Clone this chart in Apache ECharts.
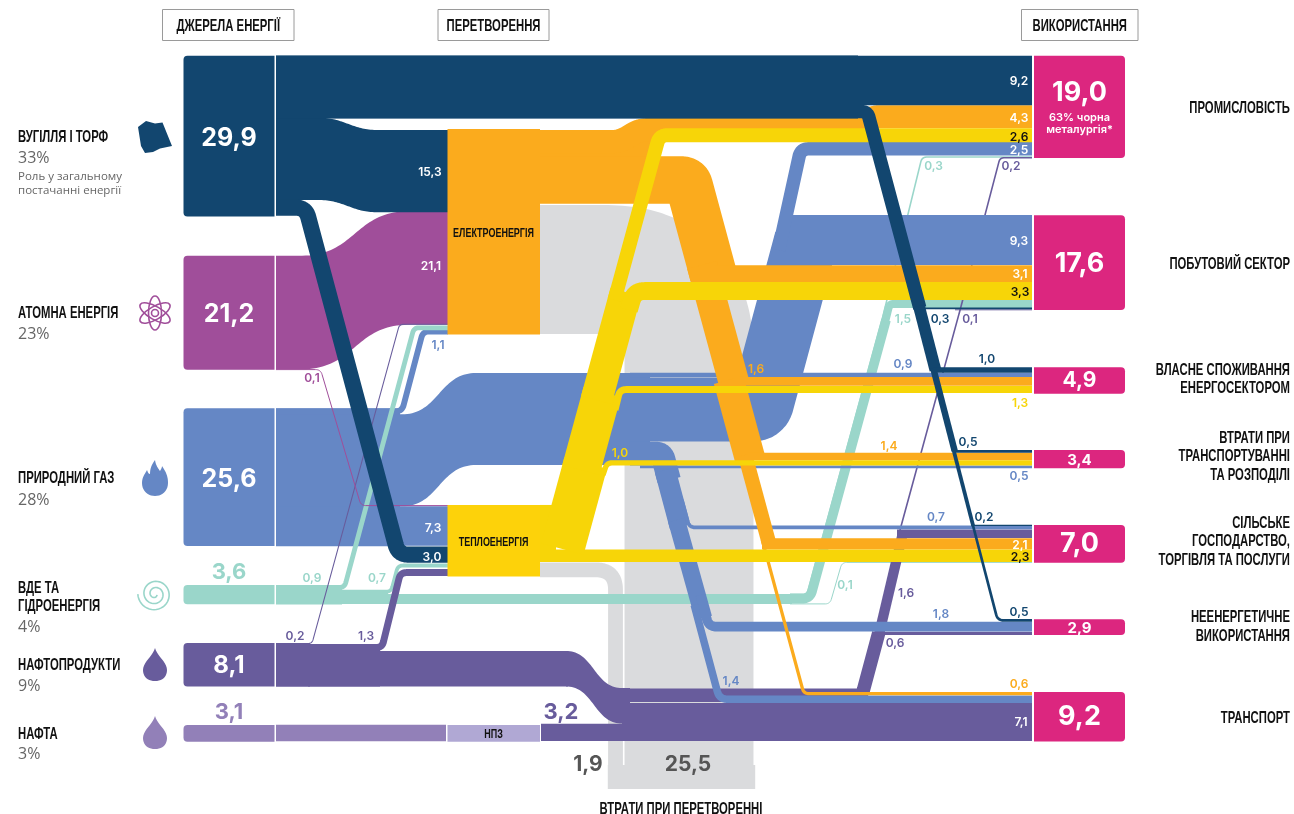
<!DOCTYPE html>
<html><head><meta charset="utf-8">
<style>html,body{margin:0;padding:0;background:#fff}#c{width:1294px;height:814px}</style>
<script src="https://cdn.jsdelivr.net/npm/echarts@6/dist/echarts.min.js"></script>
</head><body><div id="c"></div>
<script>
// ---------- DATA ----------
const sourceValues = [29.9, 21.2, 25.6, 3.6, 8.1, 3.1];
const sourceShares = ['33%', '23%', '28%', '4%', '9%', '3%'];
const useValues = [19.0, 17.6, 4.9, 3.4, 7.0, 2.9, 9.2];
const useNames = [['ПРОМИСЛОВІСТЬ'], ['ПОБУТОВИЙ СЕКТОР'], ['ВЛАСНЕ СПОЖИВАННЯ', 'ЕНЕРГОСЕКТОРОМ'],
  ['ВТРАТИ ПРИ', 'ТРАНСПОРТУВАННІ', 'ТА РОЗПОДІЛІ'], ['СІЛЬСЬКЕ', 'ГОСПОДАРСТВО,', 'ТОРГІВЛЯ ТА ПОСЛУГИ'],
  ['НЕЕНЕРГЕТИЧНЕ', 'ВИКОРИСТАННЯ'], ['ТРАНСПОРТ']];
const sourceNames = [['ВУГІЛЛЯ І ТОРФ'], ['АТОМНА ЕНЕРГІЯ'], ['ПРИРОДНИЙ ГАЗ'], ['ВДЕ ТА', 'ГІДРОЕНЕРГІЯ'], ['НАФТОПРОДУКТИ'], ['НАФТА']];
// order of uses: industry, households, own use, grid losses, agri-services, non-energy, transport
const coalToUse = [9.2, 0.3, 1.0, 0.5, 0.2, 0.5, 0];
const gasToUse = [2.5, 9.3, 0.9, 0.5, 0.7, 1.8, 1.4];
const elecToUse = [4.3, 3.1, 1.6, 1.4, 2.1, 0, 0.6];
const heatToUse = [2.6, 3.3, 1.3, 1.0, 2.3, 0, 0];
const resToUse = [0.3, 1.5, 0, 0, 0.1, 0, 0];
const oilToUse = [0.2, 0.1, 0, 0, 1.6, 0.6, 7.1];
const toElec = { coal: 15.3, atom: 21.1, gas: 1.1, res: 0.9, oil: 0.2 };
const toHeat = { coal: 3.0, atom: 0.1, gas: 7.3, res: 0.7, oil: 1.3 };
const refinery = [3.1, 3.2];
const conversionLosses = [25.5, 1.9];
const conversionBoxes = [38.2, 13.3];

// ---------- STYLE / SCALE ----------
const KY = 5.38; // px per unit
const C = { coal:'#12466F', atom:'#A04E9A', gas:'#6587C5', res:'#9AD6CA', oil:'#685C9C', crude:'#9280B8', npz:'#B0A8D4',
  el:'#FBAB1D', heat:'#F7D508', heatBox:'#FDD20A', use:'#DC267F', loss:'#DADBDD' };
const NUM = 'Inter', NARROW = '"Liberation Sans"', BODY = '"Open Sans"';
const sum = a => a.reduce((s, v) => s + v, 0);
const fmt = v => v.toFixed(1).replace('.', ',');

// ---------- MARK LIST: each ribbon's width comes from its value, route from a layout list ----------
const marks = [];
const rib = (units, color, pts, r, scale) => marks.push({ k:'rib', units, color, pts, r: r == null ? 8 : r, scale: scale || 1 });
const band = (units, color, xs, ys, cv) => marks.push({ k:'band', units, color, xs, ys, cv: cv == null ? 0.5 : cv });
const box = (units, color, x, y, w, rad) => marks.push({ k:'box', units, color, x, y, w, rad });

// losses
rib(conversionLosses[0], C.loss, [[540,269.5],[689,269.5],[689,772]], 83, 0.94);
rib(conversionLosses[1], C.loss, [[540,569.8],[615.5,569.8],[615.5,772]], 20, 1.45);
rib(sum(conversionLosses), C.loss, [[681.5,765],[681.5,789]], 0);
// left big bands
band(toElec.atom, C.atom, [276,302,408,448], [255.7,211.3]);
band(toElec.coal, C.coal, [276,318,378,448], [117.7,130], 0.45);
rib(sourceValues[2], C.gas, [[276,477.3],[400,477.3]], 0);
rib(toElec.gas, C.gas, [[276,411.2],[402,411.2],[423,331.5],[448,331.5]], 6);
rib(toHeat.gas, C.gas, [[276,526],[448,526]], 0);
band(sum(gasToUse), C.gas, [276,402,476,650], [414.3,373]);
// renewables
rib(sum(resToUse), C.res, [[276,599],[792,599]], 0);
rib(sourceValues[3], C.res, [[276,594.7],[342,594.7]], 0);
rib(toHeat.res+sum(resToUse), C.res, [[340,597],[388,597]], 0);
rib(toElec.res, C.res, [[276,587.4],[344.5,587.4],[414,327.8],[448,327.8]], 5);
rib(toHeat.res, C.res, [[276,591.7],[391,591.7],[398,565.5],[448,565.5]], 5);
rib(resToUse[0], C.res, [[790,594.4],[807,594.4],[882,320],[922,157],[1032,157]], 5);
rib(resToUse[0]+resToUse[1], C.res, [[790,598.7],[810,598.7],[886,320]], 8);
rib(resToUse[1], C.res, [[885,322],[889.5,304],[1032,304]], 4);
rib(resToUse[4], C.res, [[790,603.9],[830,603.9],[842,562.4],[1032,562.4]], 5);
// oil products
rib(sourceValues[4], C.oil, [[276,664.8],[310,664.8]], 0);
rib(sourceValues[4]-toElec.oil, C.oil, [[308,665.3],[380,665.3]], 0);
rib(toElec.oil, C.oil, [[276,643.5],[312,643.5],[399.5,324.3],[448,324.3]], 4);
rib(toHeat.oil, C.oil, [[276,647.6],[382,647.6],[400.5,572.6],[448,572.6]], 6);
rib(sourceValues[4]-toElec.oil-toHeat.oil, C.oil, [[276,668.8],[568,668.8]], 0);
band(sourceValues[4]-toElec.oil-toHeat.oil, C.oil, [566,566,622,630], [651,688], 0.5);
rib(refinery[0], C.crude, [[276,733],[446,733]], 0);
rib(refinery[1], C.oil, [[541,732.4],[640,732.4]], 0);
rib(oilToUse[6], C.oil, [[622,722],[1032,722]], 0);
rib(oilToUse[0]+oilToUse[1]+oilToUse[4]+oilToUse[5], C.oil, [[625,695.3],[862,695.3],[878.7,633]], 6);
rib(oilToUse[5], C.oil, [[872,633.4],[1032,633.4]], 0);
rib(oilToUse[0]+oilToUse[1]+oilToUse[4], C.oil, [[878.6,636],[902.9,533]], 0);
rib(oilToUse[4], C.oil, [[897,533.7],[1032,533.7]], 0);
rib(oilToUse[0]+oilToUse[1], C.oil, [[900,530],[960,310.3],[1000,157.8],[1032,157.8]], 4);
rib(oilToUse[1], C.oil, [[955,309.8],[1032,309.8]], 0);
// gas, right side
rib(gasToUse[2], C.gas, [[630,375.2],[1032,375.2]], 0);
rib(gasToUse[0]+gasToUse[1], C.gas, [[630,409.8],[760.4,409.8],[806,240]], 8);
rib(gasToUse[1], C.gas, [[785,240],[1032,240]], 0);
rib(gasToUse[0], C.gas, [[778.6,250],[800.8,148.8],[1032,148.8]], 8);
rib(gasToUse[3]+gasToUse[4]+gasToUse[5]+gasToUse[6], C.gas, [[630,453.6],[662,453.6],[669.1,480]], 6);
rib(gasToUse[3], C.gas, [[640,466.9],[1032,466.9]], 0);
rib(gasToUse[4]+gasToUse[5]+gasToUse[6], C.gas, [[665,470],[680.2,527]], 0);
rib(gasToUse[4], C.gas, [[681.8,500],[689.3,527.4],[1032,527.4]], 6);
rib(gasToUse[5]+gasToUse[6], C.gas, [[676.4,520],[703.6,618]], 0);
rib(gasToUse[5], C.gas, [[700.3,595],[708.8,626.7],[1032,626.7]], 8);
rib(gasToUse[6], C.gas, [[694.2,605],[719.4,699.2],[1032,699.2]], 8);
// electricity out
rib(sum(elecToUse), C.el, [[540,167],[655,167]], 0);
rib(elecToUse[0], C.el, [[540,141.6],[620,141.6],[640,129.6],[855,129.6],[872,116.7],[1032,116.7]], 8);
rib(sum(elecToUse)-elecToUse[0], C.el, [[540,180],[687.7,180],[713.4,275]], 6);
rib(sum(elecToUse)-elecToUse[0]-elecToUse[1], C.el, [[702,265],[734.6,385]], 0);
rib(elecToUse[1], C.el, [[715,273.6],[1032,273.6]], 0);
rib(elecToUse[2]+elecToUse[3]+elecToUse[4]+elecToUse[6], C.el, [[728.7,380],[750.4,460]], 0);
rib(elecToUse[2], C.el, [[735,381.4],[1032,381.4]], 0);
rib(elecToUse[4]+elecToUse[6], C.el, [[745.1,455],[769.5,545]], 0);
rib(elecToUse[3], C.el, [[748,456.6],[1032,456.6]], 0);
rib(elecToUse[4], C.el, [[762,543.8],[1032,543.8]], 0);
rib(elecToUse[6], C.el, [[762.3,540],[803.8,693.6],[1032,693.6]], 5);
// heat out
rib(sum(heatToUse), C.heat, [[540,533.2],[556,533.2]], 0);
rib(heatToUse[4], C.heat, [[540,555.8],[1032,555.8]], 0);
rib(heatToUse[0]+heatToUse[1]+heatToUse[2]+heatToUse[3], C.heat, [[562.3,549],[585.7,463]], 0);
rib(heatToUse[0]+heatToUse[1]+heatToUse[2], C.heat, [[580.9,470],[602.2,392]], 0);
rib(heatToUse[0]+heatToUse[1], C.heat, [[596.4,400],[625.8,292]], 0);
rib(heatToUse[0], C.heat, [[614.5,300],[659.5,135.2],[1032,135.2]], 8);
rib(heatToUse[1], C.heat, [[629,310],[634.5,291],[1032,291]], 10);
rib(heatToUse[2], C.heat, [[615,410],[620,389.6],[1032,389.6]], 6);
rib(heatToUse[3], C.heat, [[603,475],[607,462.9],[1032,462.9]], 5);
// atom to heat
rib(toHeat.atom, C.atom, [[276,369.6],[320.6,369.6],[361,505.6],[448,505.6]], 5);
// coal
rib(coalToUse[0], C.coal, [[276,80.5],[1032,80.5]], 0);
rib(coalToUse[0]+sum(coalToUse.slice(1)), C.coal, [[276,87],[858,87]], 0);
rib(toHeat.coal, C.coal, [[276,207.6],[305.7,207.6],[398.3,554.6],[448,554.6]], 10);
let coalLeft = sum(coalToUse) - coalToUse[0];
rib(coalLeft, C.coal, [[276,111.6],[867.4,111.6],[919.8,308]], 6);
coalLeft -= coalToUse[1];
rib(coalLeft, C.coal, [[918.9,306],[935.4,370]], 0);
rib(coalToUse[1], C.coal, [[918,308.4],[1032,308.4]], 0);
coalLeft -= coalToUse[2];
rib(coalLeft, C.coal, [[933.2,368],[954.7,451]], 0);
rib(coalToUse[2], C.coal, [[933,370],[1032,370]], 0);
coalLeft -= coalToUse[3];
rib(coalLeft, C.coal, [[953.3,449],[973.2,526]], 0);
rib(coalToUse[3], C.coal, [[954,451.3],[1032,451.3]], 0);
coalLeft -= coalToUse[4];
rib(coalToUse[4], C.coal, [[973,525.4],[1032,525.4]], 0);
rib(coalLeft, C.coal, [[972.6,524],[997.7,620.4],[1032,620.4]], 6);
// boxes
const boxTops = [55.7, 255.7, 408.3, 585, 643, 725];
sourceValues.forEach((v, i) => box(v, [C.coal,C.atom,C.gas,C.res,C.oil,C.crude][i], 183.5, boxTops[i], 91, [4,0,0,4]));
box(conversionBoxes[0], C.el, 447.5, 129, 92.5, 0);
box(conversionBoxes[1], C.heatBox, 447.5, 505, 92.5, 0);
box(refinery[0], C.npz, 447.5, 725, 92.5, 0);
const useTops = [55.7, 215.3, 367.3, 450, 525, 619.3, 692];
useValues.forEach((v, i) => box(v, C.use, 1034, useTops[i], 91, [0,4,4,0]));

// ---------- DRAWING ----------
function roundRoute(pts, r) {
  const out = [pts[0]];
  for (let i = 1; i < pts.length - 1; i++) {
    const a = pts[i-1], b = pts[i], c = pts[i+1];
    const l1 = Math.hypot(b[0]-a[0], b[1]-a[1]), l2 = Math.hypot(c[0]-b[0], c[1]-b[1]);
    const rr = Math.min(r, i === 1 ? l1 : l1/2, i === pts.length-2 ? l2 : l2/2);
    const p = [b[0]+(a[0]-b[0])*rr/l1, b[1]+(a[1]-b[1])*rr/l1];
    const q = [b[0]+(c[0]-b[0])*rr/l2, b[1]+(c[1]-b[1])*rr/l2];
    for (let t = 0; t <= 1.0001; t += 1/16) {
      const u = 1-t;
      out.push([u*u*p[0]+2*u*t*b[0]+t*t*q[0], u*u*p[1]+2*u*t*b[1]+t*t*q[1]]);
    }
  }
  out.push(pts[pts.length-1]);
  return out;
}
function bandEdge(m, dy) {
  const [x0, xa, xb, x1] = m.xs, [y0, y1] = m.ys, pts = [[x0, y0+dy]];
  const c1 = xa+(xb-xa)*m.cv, c2 = xb-(xb-xa)*m.cv;
  for (let t = 0; t <= 1.0001; t += 1/40) {
    const u = 1-t;
    pts.push([u*u*u*xa+3*u*u*t*c1+3*u*t*t*c2+t*t*t*xb, u*u*u*y0+3*u*u*t*y0+3*u*t*t*y1+t*t*t*y1 + dy]);
  }
  pts.push([x1, y1+dy]);
  return pts;
}
function renderItem(params, api) {
  const m = marks[params.dataIndex];
  const thick = api.size([0, m.units*KY])[1];
  if (m.k === 'rib') {
    const points = roundRoute(m.pts, m.r).map(p => api.coord(p));
    return { type:'polyline', shape:{ points }, silent:true,
      style:{ fill:null, stroke:m.color, lineWidth:Math.max(1, thick*m.scale), lineCap:'butt', lineJoin:'round' } };
  }
  if (m.k === 'band') {
    const top = bandEdge(m, 0), bot = bandEdge(m, m.units*KY).reverse();
    return { type:'polygon', shape:{ points: top.concat(bot).map(p => api.coord(p)) }, silent:true, style:{ fill:m.color } };
  }
  const tl = api.coord([m.x, m.y]);
  return { type:'rect', shape:{ x:tl[0], y:tl[1], width:api.size([m.w,0])[0], height:thick, r:m.rad }, silent:true, style:{ fill:m.color } };
}

// ---------- TEXT ----------
const gfx = [];
function T(text, x, y, o) {
  o = o || {};
  gfx.push({ type:'text', x, y:y+1, z:10, scaleX:o.sx || 1, silent:true, style:{ text, fill:o.color || '#111',
    fontFamily:o.family || NUM, fontSize:o.size || 12, fontWeight:o.weight || 600,
    textAlign:o.align || 'center', textVerticalAlign:'middle' } });
}
const H = (text, x, y, align, size) => T(text, x, y+0.5, { family:NARROW, size:size || 17, weight:700, color:'#111', align:align || 'center', sx:0.665 });
const header = (t, x0, x1) => {
  gfx.push({ type:'rect', z:9, silent:true, shape:{ x:x0, y:9.5, width:x1-x0, height:31 }, style:{ fill:'#fff', stroke:'#9a9a9a', lineWidth:1 } });
  H(t, (x0+x1)/2, 24.5);
};
header('ДЖЕРЕЛА ЕНЕРГІЇ', 162.5, 294); header('ПЕРЕТВОРЕННЯ', 438, 549); header('ВИКОРИСТАННЯ', 1021.5, 1138);

// left captions
const srcNameY = [[136],[312],[477],[587,605],[664],[733]], srcPctY = [157,333,499,626,685,753];
sourceNames.forEach((ls, i) => {
  ls.forEach((l, j) => H(l, 18, srcNameY[i][j], 'left'));
  T(sourceShares[i], 18, srcPctY[i], { family:BODY, size:16, weight:400, color:'#666', align:'left' });
});
T('Роль у загальному', 18, 175.5, { family:BODY, size:11.5, weight:400, color:'#666', align:'left' });
T('постачанні енергії', 18, 189.5, { family:BODY, size:11.5, weight:400, color:'#666', align:'left' });

// right captions
const useNameY = [[107],[263],[369,387],[437,455,474],[522,540,559],[616,635],[717]];
useNames.forEach((ls, i) => ls.forEach((l, j) => H(l, 1290, useNameY[i][j], 'right')));

// box numbers
const srcNumPos = [[137,'#fff',25],[313,'#fff',25],[478,'#fff',25],[571,C.res,22],[665,'#fff',24],[711,C.crude,22]];
sourceValues.forEach((v, i) => T(fmt(v), 229, srcNumPos[i][0], { size:srcNumPos[i][2], weight:700, color:srcNumPos[i][1] }));
T(fmt(refinery[1]), 561, 711, { size:22, weight:700, color:C.oil });
const useNumPos = [[92,27],[263,27],[380,21],[459,15],[543,27],[627,15],[716,27]];
useValues.forEach((v, i) => T(fmt(v), 1079.5, useNumPos[i][0], { size:useNumPos[i][1], weight:700, color:'#fff' }));
T('63% чорна', 1079.5, 117, { size:11, weight:600, color:'#fff' });
T('металургія*', 1079.5, 129, { size:11, weight:600, color:'#fff' });
H('ЕЛЕКТРОЕНЕРГІЯ', 493.5, 232, 'center', 13.5);
H('ТЕПЛОЕНЕРГІЯ', 493.5, 541, 'center', 13.5);
H('НПЗ', 493.5, 733, 'center', 13.5);
T(fmt(conversionLosses[1]), 588, 764, { size:21, weight:700, color:'#555' });
T(fmt(conversionLosses[0]), 688, 764, { size:21, weight:700, color:'#555' });
H('ВТРАТИ ПРИ ПЕРЕТВОРЕННІ', 681, 808, 'center');

// flow numbers: [value, x, y, colour]
const flowLabels = [
  [toElec.coal,430,171,'#fff'],[toElec.atom,431,265,'#fff'],[toElec.gas,438,344,C.gas],[toHeat.atom,312,377,C.atom],
  [toHeat.gas,433,527,'#fff'],[toHeat.coal,432,556,'#fff'],[toElec.res,312,577,C.res],[toHeat.res,377,577,C.res],
  [toElec.oil,295,635,C.oil],[toHeat.oil,366,635,C.oil],
  [coalToUse[0],1019,80,'#fff'],[elecToUse[0],1019,117,'#fff'],[heatToUse[0],1019,136,'#111'],[gasToUse[0],1019,149,'#fff'],
  [resToUse[0],933.5,165,C.res],[oilToUse[0],1011,165,C.oil],
  [gasToUse[1],1019,240,'#fff'],[elecToUse[1],1020,273,'#fff'],[heatToUse[1],1020,291,'#111'],
  [resToUse[1],903,318,C.res],[coalToUse[1],940,318,C.coal],[oilToUse[1],970,318,C.oil],
  [gasToUse[2],903,363,C.gas],[coalToUse[2],987,358,C.coal],[elecToUse[2],756,368.5,C.el],[heatToUse[2],1020,402,C.heat],
  [elecToUse[3],889,445,C.el],[coalToUse[3],968,441,C.coal],[heatToUse[3],620,452,C.heat],[gasToUse[3],1019,475,C.gas],
  [gasToUse[4],936,516,C.gas],[coalToUse[4],984,516,C.coal],[elecToUse[4],1020,544,'#fff'],[heatToUse[4],1020,556,'#111'],
  [resToUse[4],845,584,C.res],[oilToUse[4],906,592.5,C.oil],[gasToUse[5],941,613,C.gas],[coalToUse[5],1019,611,C.coal],
  [oilToUse[5],895,642.5,C.oil],[gasToUse[6],731,680,C.gas],[elecToUse[6],1019,683,C.el],[oilToUse[6],1021,721,'#fff']
];
flowLabels.forEach(l => T(fmt(l[0]), l[1], l[2], { size:12, weight:600, color:l[3] }));

// ---------- ICONS (outlines sampled from cubic curves) ----------
function cubicOutline(x, y, k, start, segs) {
  const pts = []; let p = start;
  segs.forEach(s => {
    for (let t = 0; t < 1; t += 1/10) { const u = 1-t;
      pts.push([x+k*(u*u*u*p[0]+3*u*u*t*s[0]+3*u*t*t*s[2]+t*t*t*s[4]), y+k*(u*u*u*p[1]+3*u*u*t*s[1]+3*u*t*t*s[3]+t*t*t*s[5])]); }
    p = [s[4], s[5]];
  });
  return pts;
}
const flame = cubicOutline(142, 460, 1, [13,0], [[14,6,16,8,18,11],[19,9,20,8,20,6],[24,12,26,16,26,23],[26,31,20,36,13,36],[6,36,0,31,0,23],[0,17,3,14,5,10],[6,13,7,14,8,14],[8,8,10,4,13,0]]);
const dropSegs = [[10,8,0,14,0,22],[0,29,5,33,12,33],[19,33,24,29,24,22],[24,14,14,8,12,0]];
gfx.push({ type:'polygon', z:10, silent:true, shape:{ points:[[138,127],[146,121],[155,123.5],[162.5,122.5],[172,146],[160,148.5],[153,152],[145,153],[141,146]] }, style:{ fill:C.coal } });
gfx.push({ type:'group', x:155, y:313, z:10, children:[0,60,-60].map(a => ({ type:'ellipse', z:10, silent:true, rotation:a*Math.PI/180,
  shape:{ cx:0, cy:0, rx:6.5, ry:17 }, style:{ fill:null, stroke:C.atom, lineWidth:1.6 } })).concat([{ type:'circle', z:10, silent:true, shape:{ cx:0, cy:0, r:3.5 }, style:{ fill:null, stroke:C.atom, lineWidth:1.6 } }]) });
gfx.push({ type:'polygon', z:10, silent:true, shape:{ points:flame }, style:{ fill:C.gas } });
gfx.push({ type:'polygon', z:10, silent:true, shape:{ points:cubicOutline(143, 648, 1, [12,0], dropSegs) }, style:{ fill:C.oil } });
gfx.push({ type:'polygon', z:10, silent:true, shape:{ points:cubicOutline(143, 716, 1, [12,0], dropSegs) }, style:{ fill:C.crude } });
const spiral = [];
for (let a = 0; a <= 15.4; a += 0.15) { const r = 2.2 + a*0.98; spiral.push([155 + r*Math.cos(a+0.4), 594 + r*Math.sin(a+0.4)]); }
gfx.push({ type:'polyline', z:10, silent:true, shape:{ points:spiral }, style:{ fill:null, stroke:C.res, lineWidth:1.6 } });

// ---------- CHART ----------
const chart = echarts.init(document.getElementById('c'), null, { renderer:'canvas' });
chart.setOption({
  animation:false, backgroundColor:'#fff',
  grid:{ left:0, right:0, top:0, bottom:0 },
  xAxis:{ type:'value', min:0, max:1294, show:false },
  yAxis:{ type:'value', min:0, max:814, inverse:true, show:false },
  tooltip:{ show:false },
  graphic:{ elements:gfx },
  series:[{ type:'custom', coordinateSystem:'cartesian2d', silent:true, renderItem,
    data:marks.map((m, i) => [i, i]) }]
});
</script></body></html>
